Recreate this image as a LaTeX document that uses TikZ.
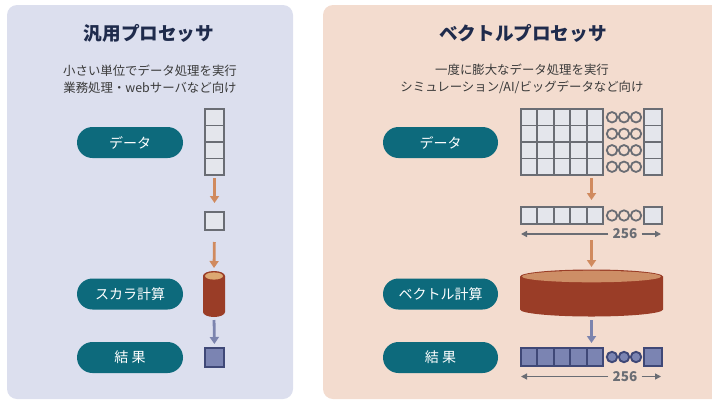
\documentclass[tikz,border=0pt]{standalone}
\usepackage{fontspec}
\setmainfont{Noto Sans CJK JP}
\newfontfamily\jp{Noto Sans CJK JP}
\usetikzlibrary{arrows.meta}
\definecolor{leftbg}{HTML}{DCDFEE}
\definecolor{rightbg}{HTML}{F3DCCF}
\definecolor{titlec}{HTML}{1F2B4C}
\definecolor{subc}{HTML}{3A3A3A}
\definecolor{pillc}{HTML}{0D6A7C}
\definecolor{cellfill}{HTML}{E4E6EC}
\definecolor{cellline}{HTML}{6A6D74}
\definecolor{resfill}{HTML}{7B84B2}
\definecolor{resline}{HTML}{3F4877}
\definecolor{arrO}{HTML}{D08A5E}
\definecolor{arrB}{HTML}{7C84AE}
\definecolor{cylbody}{HTML}{9A3D27}
\definecolor{cyltop}{HTML}{CD8E66}
\definecolor{cyltopl}{HTML}{DDA872}
\tikzset{
  pill/.style={fill=pillc, rounded corners=15.5pt, minimum height=31pt, text=white,
    font=\jp\fontsize{14}{16}\selectfont, inner sep=0pt},
  cell/.style={draw=cellline, fill=cellfill, line width=1.9pt},
  ring/.style={draw=cellline, line width=1.8pt},
  rcell/.style={draw=resline, fill=resfill, line width=1.9pt},
  anchorbox/.style={inner sep=0pt, outer sep=0pt},
  oarrow/.style={draw=arrO, line width=2.8pt, -{Triangle[width=9pt,length=7pt]}},
  barrow/.style={draw=arrB, line width=2.8pt, -{Triangle[width=9pt,length=7pt]}},
  dimline/.style={draw=cellline, line width=1.4pt, -{Triangle[width=6pt,length=6pt]}},
  titletext/.style={text=titlec, font=\jp\bfseries\fontsize{18.6}{22}\selectfont},
  subtext/.style={text=subc, font=\jp\fontsize{12.4}{17}\selectfont, align=center},
  dimtext/.style={text=cellline, font=\jp\bfseries\fontsize{13.5}{15}\selectfont, inner xsep=4pt, inner ysep=1.5pt}
}
\begin{document}
\begin{tikzpicture}[x=1pt,y=-1pt]
\useasboundingbox (0,0) rectangle (712,400);
\clip (0,0) rectangle (712,400);
% panels
\fill[leftbg, rounded corners=10pt] (7,5) rectangle (293,399);
\fill[rightbg, rounded corners=10pt] (323,5) rectangle (730,399);

% titles
\node[titletext] (ltitle) at (149,33) {汎用プロセッサ};
\node[titletext] (rtitle) at (523,33) {ベクトルプロセッサ};
\node[subtext] (lsub) at (150,79) {小さい単位でデータ処理を実行\\業務処理・webサーバなど向け};
\node[subtext] (rsub) at (522,79) {一度に膨大なデータ処理を実行\\シミュレーション/AI/ビッグデータなど向け};

% left pills
\node[pill, minimum width=106pt] (ldatap) at (130,142.5) {データ};
\node[pill, minimum width=106pt] (lcalcp) at (130,294) {スカラ計算};
\node[pill, minimum width=106pt] (lresp) at (130,357.5) {結 果};
% right pills
\node[pill, minimum width=115pt] (rdatap) at (440.5,142.5) {データ};
\node[pill, minimum width=115pt] (rcalcp) at (440.5,294) {ベクトル計算};
\node[pill, minimum width=115pt] (rresp) at (440.5,357.5) {結 果};

% ---------- left column ----------
\node[anchorbox, minimum width=19pt, minimum height=66pt] (ldata) at (214.5,142) {};
\foreach \i in {0,...,3}
  \draw[cell] (205,109+16.5*\i) rectangle (224,125.5+16.5*\i);
\node[anchorbox, minimum width=19pt, minimum height=18pt] (lsq) at (214.5,221) {};
\draw[cell] (205,212) rectangle (224,230);
% cylinder
\node[anchorbox, minimum width=22pt, minimum height=46pt] (lcyl) at (214,294) {};
\fill[cylbody] (203,276) -- (203,312) arc[start angle=180, end angle=360, x radius=11pt, y radius=5pt] -- (225,276) -- cycle;
\fill[cylbody] (214,276) ellipse[x radius=11pt, y radius=5pt];
\fill[cyltopl] (214,276) ellipse[x radius=9pt, y radius=3.6pt];
\node[anchorbox, minimum width=19pt, minimum height=19pt] (lres) at (214.5,357.5) {};
\draw[rcell] (205,348) rectangle (224,367);

\draw[oarrow, shorten <=3pt, shorten >=9pt] (ldata.south) -- (lsq.north);
\draw[oarrow, shorten <=12pt, shorten >=3pt] (lsq.south) -- (lcyl.north);
\draw[barrow, shorten <=3pt, shorten >=4pt] (lcyl.south) -- (lres.north);

% ---------- right column ----------
\node[anchorbox, minimum width=141pt, minimum height=66pt] (rdata) at (591.5,142) {};
\foreach \r in {0,...,3}{
  \foreach \c in {0,...,4}
    \draw[cell] (521+16.4*\c,109+16.5*\r) rectangle (537.4+16.4*\c,125.5+16.5*\r);
  \foreach \k in {0,1,2}
    \draw[ring] (612+12*\k,117.25+16.5*\r) circle[radius=5.2pt];
  \draw[cell] (644,109+16.5*\r) rectangle (662,125.5+16.5*\r);
}
% vector row
\node[anchorbox, minimum width=141pt, minimum height=17pt] (rvec) at (591.5,215.5) {};
\foreach \c in {0,...,4}
  \draw[cell] (521+16.4*\c,207) rectangle (537.4+16.4*\c,224);
\foreach \k in {0,1,2}
  \draw[ring] (612+12*\k,215.5) circle[radius=5.2pt];
\draw[cell] (644,207) rectangle (662,224);
\node[dimtext] (rvec256) at (625,234) {256};
\coordinate (rvecL) at (521,234);
\coordinate (rvecR) at (661,234);
\draw[dimline] (rvec256.west) -- (rvecL);
\draw[dimline] (rvec256.east) -- (rvecR);

% disk
\node[anchorbox, minimum width=143pt, minimum height=47pt] (rdisk) at (591.5,293.5) {};
\fill[cylbody] (520,276.5) -- (520,309.5) arc[start angle=180, end angle=360, x radius=71.5pt, y radius=7pt] -- (663,276.5) -- cycle;
\fill[cylbody] (591.5,276.5) ellipse[x radius=71.5pt, y radius=7pt];
\fill[cyltop] (591.5,276.5) ellipse[x radius=69.5pt, y radius=5.8pt];

% result row
\node[anchorbox, minimum width=141pt, minimum height=18pt] (rres) at (591.5,357) {};
\foreach \c in {0,...,4}
  \draw[rcell] (521+16.4*\c,348) rectangle (537.4+16.4*\c,366);
\foreach \k in {0,1,2}
  \draw[rcell] (612+12*\k,357) circle[radius=5.2pt];
\draw[rcell] (644,348) rectangle (662,366);
\node[dimtext] (rres256) at (625,376.5) {256};
\coordinate (rresL) at (521,376.5);
\coordinate (rresR) at (661,376.5);
\draw[dimline] (rres256.west) -- (rresL);
\draw[dimline] (rres256.east) -- (rresR);

\draw[oarrow, shorten <=3pt, shorten >=7pt] (rdata.south) -- (rvec.north);
\draw[oarrow, shorten <=16pt, shorten >=3pt] (rvec.south) -- (rdisk.north);
\draw[barrow, shorten <=3pt, shorten >=5pt] (rdisk.south) -- (rres.north);
\end{tikzpicture}
\end{document}
